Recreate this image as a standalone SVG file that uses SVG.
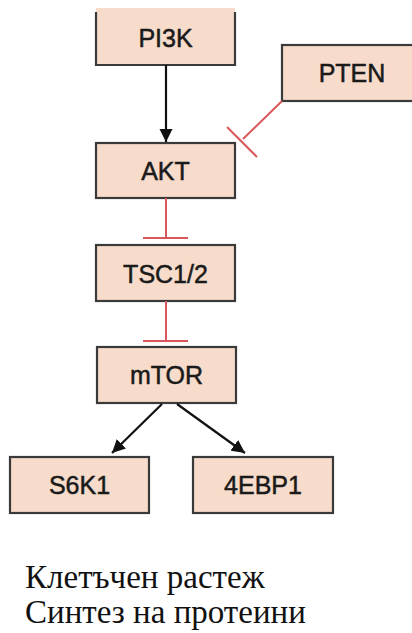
<svg xmlns="http://www.w3.org/2000/svg" width="412" height="633" viewBox="0 0 412 633">
<style>
.box{fill:#f7dccb;stroke:#3a3a3a;stroke-width:2.2}
.lbl{font-family:"Liberation Sans",Arial,sans-serif;font-size:25px;fill:#1a1a1a;stroke:#1a1a1a;stroke-width:0.5;text-anchor:middle}
.act{stroke:#111;stroke-width:2.2;fill:none}
.inh{stroke:#d9565a;stroke-width:2;fill:none}
.cap{font-family:"Liberation Serif","Times New Roman",serif;font-size:33px;fill:#111}
</style>
<defs>
<marker id="arr" viewBox="0 0 10 10" refX="10" refY="5" markerWidth="6" markerHeight="6" orient="auto" markerUnits="strokeWidth">
<path d="M0,0 L10,5 L0,10 z" fill="#111"/>
</marker>
</defs>
<rect width="412" height="633" fill="#fff"/>
<g id="PI3K">
<rect x="96" y="8" width="139" height="57" fill="#f7dccb" stroke="none"/>
<path d="M96,12 V65 H235 V12" fill="none" stroke="#3a3a3a" stroke-width="2.2"/>
<text class="lbl" x="165.5" y="47">PI3K</text>
</g>
<g id="PTEN">
<rect class="box" x="282" y="45" width="140" height="56"/>
<text class="lbl" x="352" y="82">PTEN</text>
</g>
<g id="AKT">
<rect class="box" x="96" y="143" width="139" height="55"/>
<text class="lbl" x="165.5" y="180">AKT</text>
</g>
<g id="TSC12">
<rect class="box" x="96" y="245" width="139" height="56"/>
<text class="lbl" x="165.5" y="283">TSC1/2</text>
</g>
<g id="mTOR">
<rect class="box" x="97" y="347" width="139" height="56"/>
<text class="lbl" x="166.5" y="384">mTOR</text>
</g>
<g id="S6K1">
<rect class="box" x="10" y="457" width="139" height="56"/>
<text class="lbl" x="79.5" y="494">S6K1</text>
</g>
<g id="EBP1">
<rect class="box" x="193" y="457" width="140" height="56"/>
<text class="lbl" x="263" y="494">4EBP1</text>
</g>
<g id="connectors">
<line class="act" x1="166" y1="65" x2="166" y2="142" marker-end="url(#arr)"/>
<line class="inh" x1="282" y1="101" x2="243" y2="139"/>
<line class="inh" x1="227" y1="127" x2="257" y2="157"/>
<line class="inh" x1="166" y1="198" x2="166" y2="238"/>
<line class="inh" x1="143" y1="238" x2="188" y2="238"/>
<line class="inh" x1="166" y1="301" x2="166" y2="341"/>
<line class="inh" x1="143" y1="341" x2="188" y2="341"/>
<line class="act" x1="162" y1="404" x2="112" y2="453" marker-end="url(#arr)"/>
<line class="act" x1="177" y1="404" x2="245" y2="453" marker-end="url(#arr)"/>
</g>
<text class="cap" x="25" y="588">Клетъчен растеж</text>
<text class="cap" x="25" y="623">Синтез на протеини</text>
</svg>
